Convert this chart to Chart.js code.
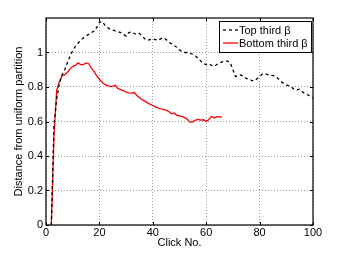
<!DOCTYPE html>
<html>
<head>
<meta charset="utf-8">
<script src="https://cdn.jsdelivr.net/npm/chart.js@4/dist/chart.umd.min.js"></script>
<style>
  html, body { margin: 0; padding: 0; background: #fff; }
  #wrap { position: relative; width: 345px; height: 254px; }
</style>
</head>
<body>
<div id="wrap"><canvas id="chart" width="345" height="254"></canvas></div>
<script>
// Data
const topClicks = [];
for (let c = 2; c <= 100; c++) topClicks.push(c);
const topDist = [
    0, 0.58, 0.73, 0.82, 0.87, 0.90, 0.94, 0.98, 1.01,          // 2-10
    1.035, 1.055, 1.07, 1.085, 1.095, 1.105, 1.115, 1.125, 1.145, 1.175, // 11-20
    1.18, 1.16, 1.145, 1.135, 1.13, 1.125, 1.12, 1.115, 1.105, 1.095,   // 21-30
    1.115, 1.12, 1.11, 1.105, 1.11, 1.095, 1.08, 1.07, 1.075, 1.08,     // 31-40
    1.075, 1.07, 1.08, 1.085, 1.075, 1.06, 1.05, 1.04, 1.03, 1.015,     // 41-50
    1.005, 1.0, 1.0, 0.995, 0.99, 0.98, 0.965, 0.95, 0.935, 0.93,       // 51-60
    0.935, 0.925, 0.92, 0.93, 0.94, 0.945, 0.95, 0.95, 0.94, 0.90,      // 61-70
    0.86, 0.865, 0.87, 0.862, 0.85, 0.845, 0.838, 0.835, 0.848, 0.86,   // 71-80
    0.875, 0.878, 0.872, 0.868, 0.866, 0.862, 0.848, 0.832, 0.82, 0.812, // 81-90
    0.806, 0.798, 0.785, 0.783, 0.787, 0.772, 0.762, 0.755, 0.746, 0.735 // 91-100
];

const bottomClicks = [];
for (let c = 2; c <= 66; c++) bottomClicks.push(c);
const bottomDist = [
    0, 0.52, 0.78, 0.83, 0.865, 0.87, 0.885, 0.905, 0.92,              // 2-10
    0.925, 0.94, 0.93, 0.93, 0.94, 0.935, 0.91, 0.89, 0.865, 0.845,    // 11-20
    0.828, 0.815, 0.808, 0.802, 0.805, 0.81, 0.79, 0.785, 0.778, 0.77, // 21-30
    0.766, 0.765, 0.768, 0.752, 0.738, 0.727, 0.718, 0.708, 0.70, 0.692, // 31-40
    0.685, 0.677, 0.673, 0.67, 0.665, 0.658, 0.645, 0.648, 0.636, 0.633, // 41-50
    0.628, 0.622, 0.612, 0.595, 0.598, 0.608, 0.612, 0.608, 0.610, 0.600, // 51-60
    0.612, 0.630, 0.620, 0.628, 0.627, 0.625                            // 61-66
];

const seriesNames = ['Top third \u03B2', 'Bottom third \u03B2'];
const xTicks = [0, 20, 40, 60, 80, 100];
const yTicks = [0, 0.2, 0.4, 0.6, 0.8, 1];

const FONT = 'Liberation Sans, Arial, Helvetica, sans-serif';

function toPoints(xs, ys) {
    return xs.map((x, i) => ({ x: x, y: ys[i] }));
}

// Box around the axes, inward ticks and the legend box
const framePlugin = {
    id: 'frame',
    afterDraw(chart) {
        const ctx = chart.ctx;
        const a = chart.chartArea;
        const xs = chart.scales.x, ys = chart.scales.y;
        ctx.save();
        ctx.strokeStyle = '#000';
        ctx.lineWidth = 1.2;
        ctx.strokeRect(a.left, a.top, a.right - a.left, a.bottom - a.top);
        ctx.lineWidth = 1;
        ctx.beginPath();
        xTicks.forEach(v => {
            const px = Math.round(xs.getPixelForValue(v)) + 0.5;
            ctx.moveTo(px, a.bottom); ctx.lineTo(px, a.bottom - 3);
            ctx.moveTo(px, a.top); ctx.lineTo(px, a.top + 3);
        });
        yTicks.forEach(v => {
            const py = Math.round(ys.getPixelForValue(v)) + 0.5;
            ctx.moveTo(a.left, py); ctx.lineTo(a.left + 3, py);
            ctx.moveTo(a.right, py); ctx.lineTo(a.right - 3, py);
        });
        ctx.stroke();

        // legend
        const bx = 219.5, by = 21.5, bw = 92, bh = 31;
        ctx.fillStyle = '#fff';
        ctx.fillRect(bx, by, bw, bh);
        ctx.lineWidth = 1;
        ctx.strokeStyle = '#000';
        ctx.strokeRect(bx, by, bw, bh);
        const sets = chart.data.datasets;
        const rows = [30, 43];
        sets.forEach((ds, i) => {
            ctx.beginPath();
            ctx.strokeStyle = ds.borderColor;
            ctx.lineWidth = ds.borderWidth;
            ctx.setLineDash(ds.borderDash || []);
            ctx.moveTo(223, rows[i]);
            ctx.lineTo(238, rows[i]);
            ctx.stroke();
            ctx.setLineDash([]);
            ctx.fillStyle = '#000';
            ctx.font = '11px ' + FONT;
            ctx.textBaseline = 'middle';
            ctx.textAlign = 'left';
            ctx.fillText(ds.label, 239, rows[i] + 0.5);
        });
        ctx.restore();
    }
};

new Chart(document.getElementById('chart'), {
    type: 'line',
    data: {
        datasets: [{
            label: seriesNames[0],
            data: toPoints(topClicks, topDist),
            borderColor: '#000',
            borderWidth: 1.3,
            borderDash: [3, 3],
            pointRadius: 0,
            fill: false,
            tension: 0
        }, {
            label: seriesNames[1],
            data: toPoints(bottomClicks, bottomDist),
            borderColor: '#ff0000',
            borderWidth: 1.3,
            pointRadius: 0,
            fill: false,
            tension: 0
        }]
    },
    options: {
        responsive: false,
        animation: false,
        devicePixelRatio: 1,
        layout: { padding: { left: 0, top: 18, right: 32, bottom: 0 } },
        plugins: {
            legend: { display: false },
            tooltip: { enabled: false }
        },
        scales: {
            x: {
                type: 'linear',
                min: 0,
                max: 100,
                afterFit(scale) { scale.height = 29; },
                afterBuildTicks(scale) { scale.ticks = xTicks.map(v => ({ value: v })); },
                ticks: {
                    color: '#000',
                    font: { family: FONT, size: 11 },
                    padding: 1,
                    maxRotation: 0
                },
                grid: { color: '#9a9a9a', drawTicks: false, lineWidth: 1 },
                border: { display: false, dash: [1, 2] },
                title: {
                    display: true,
                    text: 'Click No.',
                    color: '#000',
                    font: { family: FONT, size: 11 },
                    padding: { top: 0, bottom: 4 }
                }
            },
            y: {
                min: 0,
                max: 1.2,
                afterFit(scale) { scale.width = 46; },
                afterBuildTicks(scale) { scale.ticks = yTicks.map(v => ({ value: v })); },
                ticks: {
                    color: '#000',
                    font: { family: FONT, size: 11 },
                    padding: 3,
                    callback: v => String(Math.round(v * 10) / 10)
                },
                grid: { color: '#9a9a9a', drawTicks: false, lineWidth: 1 },
                border: { display: false, dash: [1, 2] },
                title: {
                    display: true,
                    text: 'Distance from uniform partition',
                    color: '#000',
                    font: { family: FONT, size: 11 },
                    padding: { top: 12, bottom: 0 }
                }
            }
        }
    },
    plugins: [framePlugin]
});
</script>
</body>
</html>
